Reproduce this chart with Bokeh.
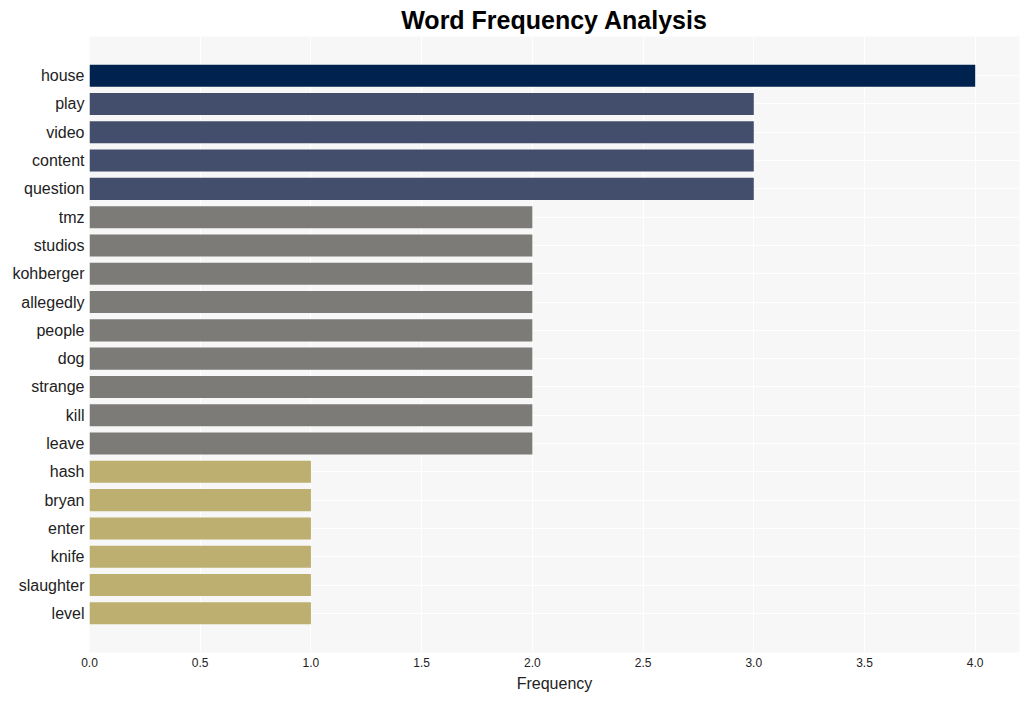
from bokeh.plotting import figure
from bokeh.models import ColumnDataSource, FactorRange, SingleIntervalTicker, NumeralTickFormatter
from bokeh.embed import file_html
from bokeh.resources import INLINE

words = ["house", "play", "video", "content", "question", "tmz", "studios", "kohberger",
         "allegedly", "people", "dog", "strange", "kill", "leave", "hash", "bryan",
         "enter", "knife", "slaughter", "level"]
counts = [4, 3, 3, 3, 3, 2, 2, 2, 2, 2, 2, 2, 2, 2, 1, 1, 1, 1, 1, 1]
color_by_count = {4: "#00224e", 3: "#434e6c", 2: "#7c7b78", 1: "#bcaf6f"}
colors = [color_by_count[c] for c in counts]

src = ColumnDataSource(dict(word=words, count=counts, color=colors))

p = figure(
    y_range=FactorRange(factors=list(reversed(words)), range_padding=0.0885),
    x_range=(0, 4.2),
    frame_width=930, frame_height=616,
    output_backend="svg", toolbar_location=None,
    title="Word Frequency Analysis",
    min_border_left=89, min_border_right=1, min_border_top=0, min_border_bottom=0,
)
p.hbar(y="word", right="count", left=0, height=0.78, fill_color="color",
       line_color=None, source=src)

p.title.align = "center"
p.title.text_font = "Liberation Sans"
p.title.text_font_size = "25px"
p.title.text_font_style = "bold"
p.title.text_color = "#000000"
p.title.standoff = 6

p.background_fill_color = "#f7f7f7"
p.border_fill_color = "white"
p.outline_line_color = None

p.xgrid.grid_line_color = "white"
p.ygrid.grid_line_color = "white"
p.xgrid.grid_line_width = 1
p.ygrid.grid_line_width = 1

p.xaxis.ticker = SingleIntervalTicker(interval=0.5)
p.xaxis.formatter = NumeralTickFormatter(format="0.0")
p.xaxis.axis_label = "Frequency"
p.xaxis.axis_label_text_font = "Liberation Sans"
p.xaxis.axis_label_text_font_size = "16px"
p.xaxis.axis_label_text_font_style = "normal"
p.xaxis.axis_label_text_color = "#222222"
p.xaxis.axis_label_standoff = 5
p.xaxis.major_label_text_font = "Liberation Sans"
p.xaxis.major_label_text_font_size = "12px"
p.xaxis.major_label_text_color = "#222222"
p.xaxis.major_label_standoff = 5

p.yaxis.major_label_text_font = "Liberation Sans"
p.yaxis.major_label_text_font_size = "16px"
p.yaxis.major_label_text_color = "#222222"
p.yaxis.major_label_standoff = 5

for ax in (p.xaxis, p.yaxis):
    ax.axis_line_color = None
    ax.major_tick_line_color = None
    ax.minor_tick_line_color = None
    ax.major_tick_out = 0
    ax.major_tick_in = 0
    ax.minor_tick_out = 0
    ax.minor_tick_in = 0

open("out.html", "w").write(file_html(p, INLINE))
